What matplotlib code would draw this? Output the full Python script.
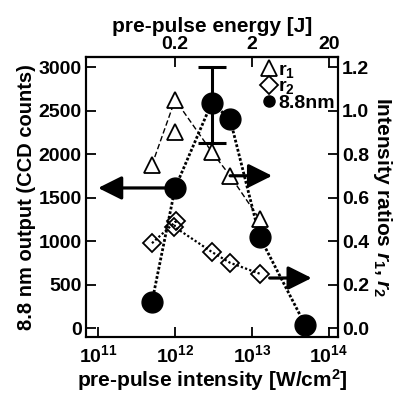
import numpy as np
import matplotlib
matplotlib.use("Agg")
import matplotlib.pyplot as plt
import matplotlib.transforms as mtransforms
from matplotlib.lines import Line2D

plt.rcParams['font.family'] = ['Liberation Sans', 'DejaVu Sans']
plt.rcParams['font.weight'] = 'bold'
plt.rcParams['mathtext.fontset'] = 'custom'
plt.rcParams['mathtext.rm'] = 'Liberation Sans:bold'
plt.rcParams['mathtext.bf'] = 'Liberation Sans:bold'
plt.rcParams['mathtext.it'] = 'Liberation Sans:italic:bold'
plt.rcParams['mathtext.default'] = 'bf'

# data
# 8.8 nm output, left axis
I_out = [5e11, 1e12, 3e12, 5.2e12, 1.26e13, 4.9e13]
out_cnt = [300, 1610, 2590, 2400, 1050, 40]
err_lo, err_hi = 2130, 3000   # error bar on the 3e12 point
# r1 ratio, right axis
I_r1 = [5e11, 1e12, 3e12, 5.2e12, 1.26e13]
r1 = [0.75, 1.05, 0.81, 0.70, 0.50]
I_r1_extra = [1e12]
r1_extra = [0.90]
# r2 ratio, right axis
I_r2 = [5e11, 1.02e12, 0.98e12, 3e12, 5.2e12, 1.26e13]
r2 = [0.39, 0.49, 0.465, 0.35, 0.30, 0.25]

xticks = [1e11, 1e12, 1e13, 1e14]
xticklabels = ['$10^{11}$', '$10^{12}$', '$10^{13}$', '$10^{14}$']
top_ticks = [0.2, 2, 20]
left_ticks = [0, 500, 1000, 1500, 2000, 2500, 3000]
right_ticks = [0.0, 0.2, 0.4, 0.6, 0.8, 1.0, 1.2]
J_per_Wcm2 = 2e-13

fig = plt.figure(figsize=(3.99, 3.97), dpi=100)
ax = fig.add_axes([0.2155, 0.1511, 0.6316, 0.7053])
ax2 = ax.twinx()

ax.set_xscale('log')
ax.set_xlim(10**10.84, 10**14.12)
ax.set_ylim(-103, 3115)
ax2.set_ylim(-103 / 2500, 3115 / 2500)

# lines
ax2.plot(I_r1, r1, ls=(0, (4, 2)), lw=1.0, color='k', zorder=2)
ax2.plot(I_r2, r2, ls=(0, (1, 1)), lw=1.6, color='k', zorder=2)
ax2.plot(I_r1, r1, ls='none', marker='^', ms=11, mfc='white', mec='k', mew=1.3, zorder=3)
ax2.plot(I_r1_extra, r1_extra, ls='none', marker='^', ms=11, mfc='white', mec='k', mew=1.3, zorder=3)
ax2.plot(I_r2, r2, ls='none', marker='D', ms=9, mfc='none', mec='k', mew=1.3, zorder=3)

ax2.plot(I_out, np.array(out_cnt) / 2500, ls=(0, (1, 0.7)), lw=2.0, color='k', zorder=2)
ax2.errorbar([I_out[2]], [out_cnt[2] / 2500],
             yerr=[[(out_cnt[2] - err_lo) / 2500], [(err_hi - out_cnt[2]) / 2500]],
             fmt='none', ecolor='k', elinewidth=2.2, capsize=10, capthick=2.2, zorder=4)
ax2.plot(I_out, np.array(out_cnt) / 2500, ls='none', marker='o', ms=15, color='k', zorder=5)

# arrows pointing to the relevant axis
def arrow(axis, x, y, dx_in):
    head = axis.transData + mtransforms.ScaledTranslation(dx_in, 0, fig.dpi_scale_trans)
    axis.annotate('', xy=(x, y), xycoords=head, xytext=(x, y), textcoords='data',
                  arrowprops=dict(arrowstyle='-|>,head_length=0.6,head_width=0.3',
                                  lw=2.3, color='k', mutation_scale=24,
                                  shrinkA=0, shrinkB=0), zorder=6)

arrow(ax2, I_out[1], out_cnt[1] / 2500, -0.77)
arrow(ax2, I_r1[3], r1[3], 0.42)
arrow(ax2, I_r2[-1] * 1.35, r2[-1] - 0.02, 0.42)

# legend
handles = [Line2D([], [], ls='none', marker='^', ms=11, mfc='white', mec='k', mew=1.3),
           Line2D([], [], ls='none', marker='D', ms=9, mfc='white', mec='k', mew=1.3),
           Line2D([], [], ls='none', marker='o', ms=8, color='k')]
ax2.legend(handles, ['r$_1$', 'r$_2$', '8.8nm'], loc='upper left', frameon=False,
           handlelength=0.7, handletextpad=0.1, labelspacing=-0.1,
           borderaxespad=0.0, borderpad=0.0, fontsize=14,
           bbox_to_anchor=(0.70, 0.985))

# axes styling
ax.set_xticks(xticks)
ax.set_xticklabels(xticklabels)
ax.xaxis.set_minor_locator(matplotlib.ticker.NullLocator())
ax.set_yticks(left_ticks)
ax2.set_yticks(right_ticks)
ax2.set_yticklabels([f'{v:.1f}' for v in right_ticks])

secax = ax.secondary_xaxis('top', functions=(lambda x: x * J_per_Wcm2, lambda e: e / J_per_Wcm2))
secax.set_xticks(top_ticks)
secax.set_xticklabels(['0.2', '2', '20'])
secax.xaxis.set_minor_locator(matplotlib.ticker.NullLocator())
secax.set_xlabel('pre-pulse energy [J]', fontsize=15, fontweight='bold', labelpad=3)

for a in (ax, ax2, secax):
    a.tick_params(direction='in', length=7.5, width=1.3, labelsize=14, pad=3)
ax.tick_params(axis='x', pad=5)
for a in (ax, ax2):
    for s in a.spines.values():
        s.set_linewidth(1.5)
secax.spines['top'].set_linewidth(1.5)

ax.set_xlabel('pre-pulse intensity [W/cm$^2$]', fontsize=15, fontweight='bold', labelpad=1)
ax.set_ylabel('8.8 nm output (CCD counts)', fontsize=14.5, fontweight='bold', labelpad=2)
ax2.set_ylabel('Intensity ratios $\\mathit{r}_1$, $\\mathit{r}_2$', fontsize=15,
               fontweight='bold', rotation=270, labelpad=18)

fig.savefig('out.png', dpi=100)
